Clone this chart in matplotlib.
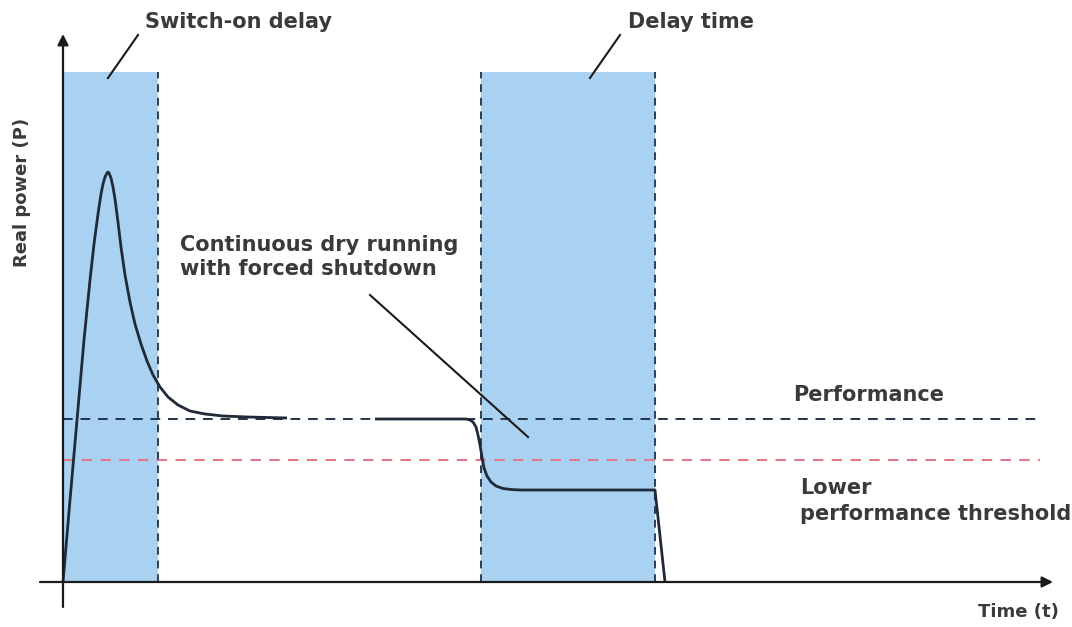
import matplotlib
matplotlib.use("Agg")
import matplotlib.pyplot as plt

plt.rcParams["font.family"] = "DejaVu Sans"

# ── Datos (unidades arbitrarias: tiempo t, potencia P) ─────────────────────────
# Arranque: subida, pico y estabilización en el nivel de rendimiento
start_t = [0, 7, 14, 21, 27, 31, 35, 38, 40, 42, 44, 45, 46, 48, 50, 52,
           55, 58, 62, 67, 72, 78, 84, 90, 97, 105, 115, 127, 142, 160,
           185, 224]
start_p = [0, 82, 162, 242, 302, 338, 368, 388, 398, 405, 409, 410, 409,
           404, 395, 383, 360, 335, 307, 280, 258, 238, 221, 207, 195,
           185, 177, 171, 168, 166, 165, 164]

# Marcha en seco: caída por debajo del umbral y desconexión forzada
dry_t = [312, 403, 407, 410, 413, 415, 417, 419, 421, 424, 428, 433, 440,
         448, 458, 592, 602]
dry_p = [163, 163, 162, 160, 155, 147, 137, 125, 114, 106, 100, 96, 93.5,
         92.5, 92, 92, 0]

performance_level = 163
lower_threshold = 122

switch_on_band = (0, 95)
delay_band = (418, 592)
band_top = 510

T_MAX = 977
TEXT = "#3a3a3a"
BLUE = "#a9d1f2"
DARK = "#1f2a38"

# ── Figura ─────────────────────────────────────────────────────────────────────
fig = plt.figure(figsize=(10.72, 6.27), dpi=100)
ax = fig.add_axes([0, 0, 1, 1])
ax.set_xlim(-63, 1009)
ax.set_ylim(-45, 582)
ax.axis("off")

# Bandas de retardo
for a, b in (switch_on_band, delay_band):
    ax.fill_between([a, b], 0, band_top, color=BLUE, lw=0, zorder=1)
for x in (switch_on_band[1], delay_band[0], delay_band[1]):
    ax.plot([x, x], [0, band_top], color="#2d3e52", lw=1.4,
            dashes=(4, 3), zorder=3)

# Niveles de referencia
ax.plot([0, T_MAX], [performance_level] * 2, color="#22344a", lw=1.4,
        dashes=(5, 4), zorder=2)
ax.plot([0, T_MAX], [lower_threshold] * 2, color="#e07a8a", lw=1.5,
        dashes=(5, 4), zorder=2)

# Curva de potencia
for tt, pp in ((start_t, start_p), (dry_t, dry_p)):
    ax.plot(tt, pp, color=DARK, lw=2.0, solid_capstyle="butt",
            solid_joinstyle="round", zorder=4)

# Ejes con flecha
arrow = dict(arrowstyle="-|>", color="#1a1a1a", lw=1.6, mutation_scale=16,
             shrinkA=0, shrinkB=0)
ax.annotate("", xy=(0, 548), xytext=(0, -25), arrowprops=arrow, zorder=5)
ax.annotate("", xy=(990, 0), xytext=(-23, 0), arrowprops=arrow, zorder=5)

# Líneas guía
ax.plot([45, 75], [504, 547], color="#1a1a1a", lw=1.5, zorder=5)
ax.plot([527, 557], [504, 547], color="#1a1a1a", lw=1.5, zorder=5)
ax.plot([307, 465], [287, 145], color="#1a1a1a", lw=1.5, zorder=5)

# Textos
kw = dict(color=TEXT, fontweight="bold", zorder=6)
ax.text(82, 560, "Switch-on delay", ha="left", va="center", fontsize=15, **kw)
ax.text(565, 560, "Delay time", ha="left", va="center", fontsize=15, **kw)
ax.text(117, 325, "Continuous dry running\nwith forced shutdown",
        ha="left", va="center", linespacing=1.25, fontsize=15, **kw)
ax.text(730, 187, "Performance", ha="left", va="center", fontsize=15, **kw)
ax.text(737, 81, "Lower\nperformance threshold", ha="left", va="center",
        linespacing=1.35, fontsize=15, **kw)
ax.text(915, -30, "Time (t)", ha="left", va="center", fontsize=13, **kw)
ax.text(-41, 390, "Real power (P)", ha="center", va="center",
        rotation=90, fontsize=13, **kw)

fig.savefig("out.png", dpi=100)
plt.close()
